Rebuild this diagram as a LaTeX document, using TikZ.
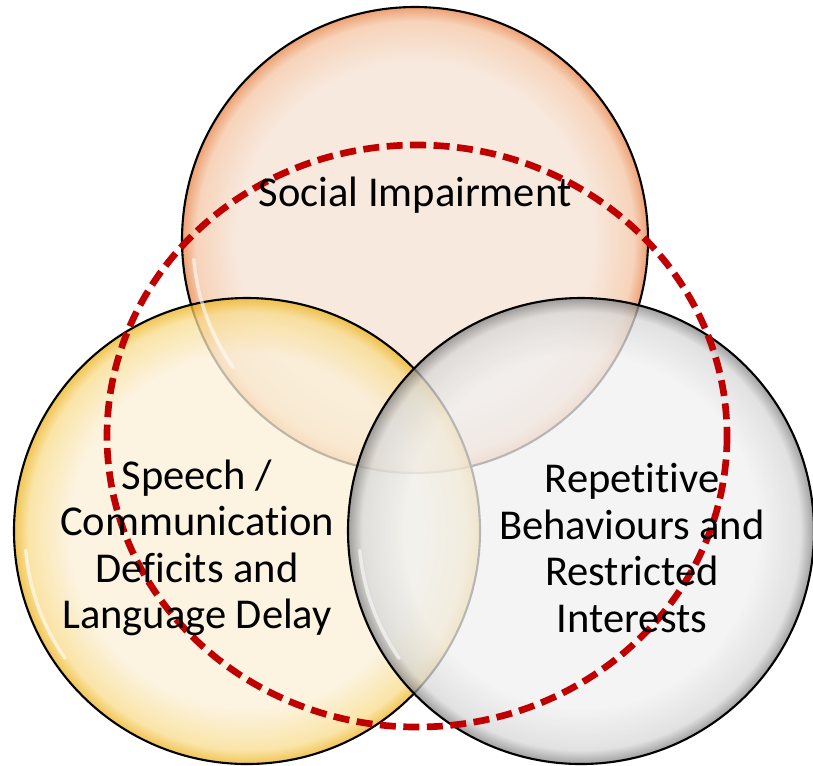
\documentclass[tikz,border=0pt]{standalone}
\usepackage{fontspec}
\setmainfont{Carlito}[Ligatures={NoCommon,NoContextual}]
\usetikzlibrary{positioning}

\definecolor{socin}{RGB}{246,226,212}
\definecolor{socmid}{RGB}{244,198,164}
\definecolor{socout}{RGB}{232,130,70}
\definecolor{spein}{RGB}{251,240,216}
\definecolor{spemid}{RGB}{249,220,140}
\definecolor{speout}{RGB}{236,178,30}
\definecolor{repin}{RGB}{240,240,240}
\definecolor{repmid}{RGB}{216,216,216}
\definecolor{repout}{RGB}{130,130,130}
\definecolor{dashred}{RGB}{192,0,0}

% edge of the circle sits at 25bp
\pgfdeclareradialshading{socglass}{\pgfpointorigin}{color(0bp)=(socin); color(19bp)=(socin); color(23.5bp)=(socmid); color(25bp)=(socout); color(50bp)=(socout)}
\pgfdeclareradialshading{speglass}{\pgfpointorigin}{color(0bp)=(spein); color(19bp)=(spein); color(23.5bp)=(spemid); color(25bp)=(speout); color(50bp)=(speout)}
\pgfdeclareradialshading{repglass}{\pgfpointorigin}{color(0bp)=(repin); color(19bp)=(repin); color(23.5bp)=(repmid); color(25bp)=(repout); color(50bp)=(repout)}

\begin{document}
\begin{tikzpicture}[x=0.02cm, y=-0.02cm,
    ring/.style={draw=black, line width=1.2pt, fill opacity=0.76},
    shine/.style={white, line width=2pt, line cap=round, opacity=0.6},
    vtext/.style={align=center, inner sep=0pt,
        font=\fontsize{24.2}{26.4}\selectfont}]
    \useasboundingbox (0,0) rectangle (813,765);

    % centres of the three sets
    \coordinate (soc) at (415,240);
    \coordinate (spe) at (247,531);
    \coordinate (rep) at (581,531);

    % the three glass circles
    \shade[ring, shading=socglass] (soc) circle [radius=233];
    \shade[ring, shading=speglass] (spe) circle [radius=233];
    \shade[ring, shading=repglass] (rep) circle [radius=233];

    % little highlights on the rims
    \draw[shine] ([shift={(145:222)}]soc) arc (145:175:222);
    \draw[shine] ([shift={(145:222)}]spe) arc (145:175:222);
    \draw[shine] ([shift={(145:222)}]rep) arc (145:175:222);

    % dashed outline round the whole spectrum
    \draw[dashred, line width=3.8pt, dash pattern=on 0.32cm off 0.15cm]
        (417,436) ellipse [x radius=310, y radius=291];

    \node[vtext] (soclabel) at (415,195) {Social Impairment};
    \node[vtext] (spelabel) at (197,548) {Speech /\\Communication\\Deficits and\\Language Delay};
    \node[vtext] (replabel) at (632,548) {Repetitive\\Behaviours and\\Restricted\\Interests};
\end{tikzpicture}
\end{document}
